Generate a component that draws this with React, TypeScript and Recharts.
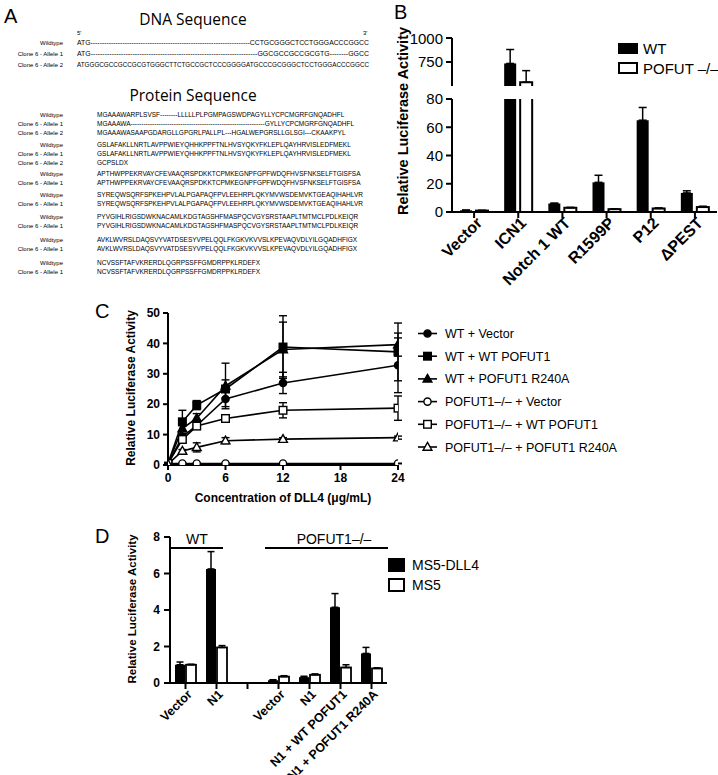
import React from 'react';
import { BarChart, Bar, XAxis, YAxis, ErrorBar, LineChart, Line } from 'recharts';

const FONT = '"Liberation Sans", Arial, Helvetica, sans-serif';
const SEQ_FONT = '"Liberation Sans", Arial, sans-serif';
const TITLE_FONT = '"Open Sans", "Noto Sans", sans-serif';

// ---------------- Panel A (text content) ----------------
const dash = (n: number) => '-'.repeat(n);
const dnaRowLabels = ['Wildtype', 'Clone 6 - Allele 1', 'Clone 6 - Allele 2'];
const dnaSequences = [
  'ATG' + dash(70) + 'CCTGCGGGCTCCTGGGACCCGGCC',
  'ATG' + dash(72) + 'GGCGCCGCCGCGTG' + dash(8) + 'GGCC',
  'ATGGGCGCCGCCGCGTGGGCTTCTGCCGCTCCCGGGGATGCCCGCGGGCTCCTGGGACCCGGCC',
];
const proteinLabels = ['Wildtype', 'Clone 6 - Allele 1', 'Clone 6 - Allele 2'];
const proteinBlocks: string[][] = [
  [
    'MGAAAWARPLSVSF--------LLLLLPLPGMPAGSWDPAGYLLYCPCMGRFGNQADHFL',
    'MGAAAWA' + dash(62) + 'GYLLYCPCMGRFGNQADHFL',
    'MGAAAWASAAPGDARGLLGPGRLPALLPL---HGALWEPGRSLLGLSGI---CKAAKPYL',
  ],
  [
    'GSLAFAKLLNRTLAVPPWIEYQHHKPPFTNLHVSYQKYFKLEPLQAYHRVISLEDFMEKL',
    'GSLAFAKLLNRTLAVPPWIEYQHHKPPFTNLHVSYQKYFKLEPLQAYHRVISLEDFMEKL',
    'GCPSLDX',
  ],
  [
    'APTHWPPEKRVAYCFEVAAQRSPDKKTCPMKEGNPFGPFWDQFHVSFNKSELFTGISFSA',
    'APTHWPPEKRVAYCFEVAAQRSPDKKTCPMKEGNPFGPFWDQFHVSFNKSELFTGISFSA',
  ],
  [
    'SYREQWSQRFSPKEHPVLALPGAPAQFPVLEEHRPLQKYMVWSDEMVKTGEAQIHAHLVR',
    'SYREQWSQRFSPKEHPVLALPGAPAQFPVLEEHRPLQKYMVWSDEMVKTGEAQIHAHLVR',
  ],
  [
    'PYVGIHLRIGSDWKNACAMLKDGTAGSHFMASPQCVGYSRSTAAPLTMTMCLPDLKEIQR',
    'PYVGIHLRIGSDWKNACAMLKDGTAGSHFMASPQCVGYSRSTAAPLTMTMCLPDLKEIQR',
  ],
  [
    'AVKLWVRSLDAQSVYVATDSESYVPELQQLFKGKVKVVSLKPEVAQVDLYILGQADHFIGX',
    'AVKLWVRSLDAQSVYVATDSESYVPELQQLFKGKVKVVSLKPEVAQVDLYILGQADHFIGX',
  ],
  [
    'NCVSSFTAFVKRERDLQGRPSSFFGMDRPPKLRDEFX',
    'NCVSSFTAFVKRERDLQGRPSSFFGMDRPPKLRDEFX',
  ],
];
const proteinBlockTops = [115, 145, 174, 195, 217, 240, 263];

// ---------------- Panel B data ----------------
const bCategories = ['Vector', 'ICN1', 'Notch 1 WT', 'R1599P', 'P12', '\u0394PEST'];
const bWT = [1.2, 735, 6, 21, 65, 13.5];
const bWTErr = [0.2, 145, 0.3, 5, 9, 1.5];
const bKO = [1, 540, 3, 2, 2.5, 3.5];
const bKOErr = [0.2, 120, 0.3, 0.3, 0.4, 0.6];
const bLowerTicks = [0, 20, 40, 60, 80];
const bUpperTicks = [500, 750, 1000];
const B_LOW_MAX = 80;
const B_HIGH_MIN = 500;

const bLowerData = bCategories.map((name, i) => ({
  name,
  wt: Math.min(bWT[i], B_LOW_MAX),
  wtRaw: bWT[i],
  wtErr: bWT[i] > B_LOW_MAX ? null : [0, bWTErr[i]],
  ko: Math.min(bKO[i], B_LOW_MAX),
  koRaw: bKO[i],
  koErr: bKO[i] > B_LOW_MAX ? null : [0, bKOErr[i]],
}));
const bUpperData = bCategories.map((name, i) => ({
  name,
  wt: bWT[i] > B_HIGH_MIN ? bWT[i] : null,
  wtErr: bWT[i] > B_HIGH_MIN ? [0, bWTErr[i]] : null,
  ko: bKO[i] > B_HIGH_MIN ? bKO[i] : null,
  koErr: bKO[i] > B_HIGH_MIN ? [0, bKOErr[i]] : null,
}));

// ---------------- Panel C data ----------------
const cConcentrations = [0, 1.5, 3, 6, 12, 24];
const cTicksX = [0, 6, 12, 18, 24];
const cTicksY = [0, 10, 20, 30, 40, 50];
const cWTVector = [0.5, 9.3, 13, 21.7, 27, 32.8];
const cWTVectorErr = [0.3, 1, 1, 2.5, 3.5, 9];
const cWTPofut = [0.5, 14.2, 19.7, 25, 38.8, 37.2];
const cWTPofutErr = [0.3, 3.8, 1.5, 3, 10.3, 9.5];
const cWTR240A = [0.5, 12, 15.4, 26, 38, 39.6];
const cWTR240AErr = [0.3, 1, 1.5, 7.5, 9, 3.8];
const cKOVector = [0.5, 0.5, 0.5, 0.5, 0.5, 0.5];
const cKOVectorErr = [0.1, 0.1, 0.1, 0.1, 0.1, 0.1];
const cKOPofut = [0.5, 8.4, 12.8, 15.3, 18, 18.7];
const cKOPofutErr = [0.3, 1, 1, 0.8, 2.5, 4];
const cKOR240A = [0.3, 4.6, 5.8, 8, 8.5, 9];
const cKOR240AErr = [0.2, 0.5, 1.5, 1, 0.5, 0.5];

const cSeries = [
  { key: 'wtVector', label: 'WT + Vector', values: cWTVector, errors: cWTVectorErr, shape: 'circle', filled: true },
  { key: 'wtPofut', label: 'WT + WT POFUT1', values: cWTPofut, errors: cWTPofutErr, shape: 'square', filled: true },
  { key: 'wtR240A', label: 'WT + POFUT1 R240A', values: cWTR240A, errors: cWTR240AErr, shape: 'triangle', filled: true },
  { key: 'koVector', label: 'POFUT1\u2013/\u2013 + Vector', values: cKOVector, errors: cKOVectorErr, shape: 'circle', filled: false },
  { key: 'koPofut', label: 'POFUT1\u2013/\u2013 + WT POFUT1', values: cKOPofut, errors: cKOPofutErr, shape: 'square', filled: false },
  { key: 'koR240A', label: 'POFUT1\u2013/\u2013 + POFUT1 R240A', values: cKOR240A, errors: cKOR240AErr, shape: 'triangle', filled: false },
];
const cData = cConcentrations.map((x, i) => {
  const row: any = { x };
  cSeries.forEach((s) => {
    row[s.key] = s.values[i];
    row[s.key + 'Err'] = s.errors[i];
  });
  return row;
});

// ---------------- Panel D data ----------------
const dCategories = ['Vector', 'N1', '', 'Vector', 'N1', 'N1 + WT POFUT1', 'N1 + POFUT1 R240A'];
const dMS5DLL4 = [1.0, 6.25, null, 0.15, 0.32, 4.15, 1.62];
const dMS5DLL4Err = [0.15, 0.95, null, 0.03, 0.05, 0.75, 0.33];
const dMS5 = [1.0, 1.95, null, 0.35, 0.45, 0.85, 0.8];
const dMS5Err = [0.03, 0.1, null, 0.05, 0.05, 0.15, 0.03];
const dTicksY = [0, 2, 4, 6, 8];
const dData = dCategories.map((name, i) => ({
  name,
  dll4: dMS5DLL4[i],
  dll4Err: dMS5DLL4Err[i] == null ? null : [0, dMS5DLL4Err[i]],
  ms5: dMS5[i],
  ms5Err: dMS5Err[i] == null ? null : [0, dMS5Err[i]],
}));

// ---------------- helpers ----------------
function Marker({ shape, filled, cx, cy }: any) {
  const fill = filled ? '#000' : '#fff';
  const sw = 1.4;
  if (shape === 'circle') return <circle cx={cx} cy={cy} r={3.6} fill={fill} stroke="#000" strokeWidth={sw} />;
  if (shape === 'square')
    return <rect x={cx - 3.8} y={cy - 3.8} width={7.6} height={7.6} fill={fill} stroke="#000" strokeWidth={sw} />;
  return (
    <path
      d={`M${cx},${cy - 4.6} L${cx + 4.4},${cy + 3.2} L${cx - 4.4},${cy + 3.2} Z`}
      fill={fill}
      stroke="#000"
      strokeWidth={sw}
    />
  );
}

const makeRotTick = (fontSize: number, dx: number, dy: number) => (props: any) => {
  const { x, y, payload } = props;
  return (
    <g transform={`translate(${x + dx},${y + dy})`}>
      <text
        transform="rotate(-45)"
        textAnchor="end"
        x={0}
        y={0}
        dy="0.35em"
        fontSize={fontSize}
        fontWeight="bold"
        fontFamily={FONT}
        fill="#000"
      >
        {payload.value}
      </text>
    </g>
  );
};

const OpenBarLower = (props: any) => {
  const { x, y, width, height, payload } = props;
  if (payload == null || payload.ko == null || width == null) return <g />;
  if (payload.koRaw > B_LOW_MAX) {
    return (
      <g>
        <rect x={x} y={y} width={width} height={height} fill="#fff" />
        <path
          d={`M${x},${y + height} L${x},${y} M${x + width},${y} L${x + width},${y + height}`}
          stroke="#000"
          strokeWidth={2}
          fill="none"
        />
      </g>
    );
  }
  return <rect x={x} y={y} width={width} height={height} fill="#fff" stroke="#000" strokeWidth={2} />;
};

const OpenBarUpper = (props: any) => {
  const { x, y, width, height, payload } = props;
  if (payload == null || payload.ko == null || width == null) return <g />;
  return (
    <g>
      <rect x={x} y={y} width={width} height={height} fill="#fff" />
      <path
        d={`M${x},${y + height} L${x},${y} L${x + width},${y} L${x + width},${y + height}`}
        stroke="#000"
        strokeWidth={2}
        fill="none"
      />
    </g>
  );
};

const OpenBarD = (props: any) => {
  const { x, y, width, height, payload } = props;
  if (payload == null || payload.ms5 == null || width == null) return <g />;
  return <rect x={x} y={y} width={width} height={height} fill="#fff" stroke="#000" strokeWidth={1.8} />;
};

const axisLine = { stroke: '#000', strokeWidth: 2 };
const tickLine = { stroke: '#000', strokeWidth: 2 };

// ---------------- Panels ----------------
function PanelB() {
  return (
    <>
      <div style={{ position: 'absolute', left: 360, top: 30 }}>
        <BarChart
          width={358}
          height={56}
          data={bUpperData}
          margin={{ top: 8, right: 1, bottom: 0, left: 0 }}
          barSize={12}
          barGap={4}
        >
          <XAxis dataKey="name" hide />
          <YAxis
            width={92}
            domain={[B_HIGH_MIN, 1000]}
            ticks={bUpperTicks}
            allowDataOverflow
            axisLine={axisLine}
            tickLine={tickLine}
            tickSize={6}
            tickMargin={3}
            tick={{ fill: '#000', fontSize: 15, fontFamily: FONT }}
          />
          <Bar dataKey="wt" fill="#000" isAnimationActive={false}>
            <ErrorBar dataKey="wtErr" width={4} stroke="#000" strokeWidth={1.5} />
          </Bar>
          <Bar dataKey="ko" fill="#fff" shape={OpenBarUpper} isAnimationActive={false}>
            <ErrorBar dataKey="koErr" width={4} stroke="#000" strokeWidth={1.5} />
          </Bar>
        </BarChart>
      </div>
      <div style={{ position: 'absolute', left: 360, top: 90 }}>
        <BarChart
          width={358}
          height={212}
          data={bLowerData}
          margin={{ top: 9, right: 1, bottom: 0, left: 0 }}
          barSize={12}
          barGap={4}
        >
          <XAxis
            dataKey="name"
            interval={0}
            height={90}
            axisLine={axisLine}
            tickLine={tickLine}
            tickSize={6}
            tickMargin={2}
            tick={makeRotTick(16, 5, 0)}
          />
          <YAxis
            width={92}
            domain={[0, B_LOW_MAX]}
            ticks={bLowerTicks}
            allowDataOverflow
            axisLine={axisLine}
            tickLine={tickLine}
            tickSize={6}
            tickMargin={3}
            tick={{ fill: '#000', fontSize: 15, fontFamily: FONT }}
          />
          <Bar dataKey="wt" fill="#000" isAnimationActive={false}>
            <ErrorBar dataKey="wtErr" width={4} stroke="#000" strokeWidth={1.5} />
          </Bar>
          <Bar dataKey="ko" fill="#fff" shape={OpenBarLower} isAnimationActive={false}>
            <ErrorBar dataKey="koErr" width={4} stroke="#000" strokeWidth={1.5} />
          </Bar>
        </BarChart>
      </div>
    </>
  );
}

function PanelC() {
  return (
    <div style={{ position: 'absolute', left: 90, top: 300 }}>
      <LineChart width={320} height={205} data={cData} margin={{ top: 13, right: 12, bottom: 0, left: 0 }}>
        <XAxis
          dataKey="x"
          type="number"
          domain={[0, 24]}
          ticks={cTicksX}
          allowDataOverflow
          height={40}
          axisLine={axisLine}
          tickLine={tickLine}
          tickSize={5}
          tickMargin={3}
          tick={{ fill: '#000', fontSize: 12, fontWeight: 'bold', fontFamily: FONT }}
        />
        <YAxis
          width={78}
          domain={[0, 50]}
          ticks={cTicksY}
          allowDataOverflow
          axisLine={axisLine}
          tickLine={tickLine}
          tickSize={5}
          tickMargin={3}
          tick={{ fill: '#000', fontSize: 12, fontWeight: 'bold', fontFamily: FONT }}
        />
        {cSeries.map((s) => (
          <Line
            key={s.key}
            dataKey={s.key}
            stroke="#000"
            strokeWidth={1.6}
            isAnimationActive={false}
            dot={(p: any) => (
              <Marker key={`${s.key}-${p.index}`} shape={s.shape} filled={s.filled} cx={p.cx} cy={p.cy} />
            )}
            activeDot={false}
          >
            <ErrorBar dataKey={s.key + 'Err'} width={4} stroke="#000" strokeWidth={1.4} direction="y" />
          </Line>
        ))}
      </LineChart>
    </div>
  );
}

function PanelD() {
  return (
    <div style={{ position: 'absolute', left: 80, top: 525 }}>
      <BarChart
        width={307}
        height={250}
        data={dData}
        margin={{ top: 12, right: 0, bottom: 0, left: 0 }}
        barSize={10}
        barGap={1}
      >
        <XAxis
          dataKey="name"
          interval={0}
          height={92}
          axisLine={axisLine}
          tickLine={tickLine}
          tickSize={6}
          tickMargin={2}
          tick={makeRotTick(12.5, 4, 1)}
        />
        <YAxis
          width={90}
          domain={[0, 8]}
          ticks={dTicksY}
          allowDataOverflow
          axisLine={axisLine}
          tickLine={tickLine}
          tickSize={6}
          tickMargin={4}
          tick={{ fill: '#000', fontSize: 12, fontWeight: 'bold', fontFamily: FONT }}
        />
        <Bar dataKey="dll4" fill="#000" isAnimationActive={false}>
          <ErrorBar dataKey="dll4Err" width={3.5} stroke="#000" strokeWidth={1.5} />
        </Bar>
        <Bar dataKey="ms5" fill="#fff" shape={OpenBarD} isAnimationActive={false}>
          <ErrorBar dataKey="ms5Err" width={3.5} stroke="#000" strokeWidth={1.5} />
        </Bar>
      </BarChart>
    </div>
  );
}

function Overlay() {
  const seqLabelX = 63;
  return (
    <svg
      width={718}
      height={775}
      style={{ position: 'absolute', left: 0, top: 0, pointerEvents: 'none' }}
    >
      {/* panel letters */}
      <g fontFamily={FONT} fontSize={20} fill="#000">
        <text x={4} y={23}>A</text>
        <text x={394} y={19}>B</text>
        <text x={95} y={318}>C</text>
        <text x={95} y={543}>D</text>
      </g>

      {/* Panel A */}
      <text x={193} y={25} textAnchor="middle" fontFamily={TITLE_FONT} fontSize={15.5} fill="#000">
        DNA Sequence
      </text>
      <text x={77} y={35} fontFamily={SEQ_FONT} fontSize={6} fill="#000">5'</text>
      <text x={363} y={35} fontFamily={SEQ_FONT} fontSize={6} fill="#000">3'</text>
      {dnaSequences.map((seq, i) => (
        <g key={'dna' + i} fontFamily={SEQ_FONT} fill="#000">
          <text x={seqLabelX} y={44.5 + i * 11} textAnchor="end" fontSize={6}>
            {dnaRowLabels[i]}
          </text>
          <text x={77} y={44.5 + i * 11} fontSize={6.8} textLength={292} lengthAdjust="spacingAndGlyphs">
            {seq}
          </text>
        </g>
      ))}
      <text x={193} y={101} textAnchor="middle" fontFamily={TITLE_FONT} fontSize={15.5} fill="#000">
        Protein Sequence
      </text>
      {proteinBlocks.map((block, bi) =>
        block.map((seq, ri) => (
          <g key={`p${bi}-${ri}`} fontFamily={SEQ_FONT} fill="#000">
            <text x={seqLabelX} y={proteinBlockTops[bi] + ri * 8.8 + 2.3} textAnchor="end" fontSize={6}>
              {proteinLabels[ri]}
            </text>
            <text x={97} y={proteinBlockTops[bi] + ri * 8.8 + 2.3} fontSize={6.5}>
              {seq}
            </text>
          </g>
        ))
      )}

      {/* Panel B titles and legend */}
      <text
        transform="translate(408,121) rotate(-90)"
        textAnchor="middle"
        fontFamily={FONT}
        fontWeight="bold"
        fontSize={14.5}
        fill="#000"
      >
        Relative Luciferase Activity
      </text>
      <rect x={618} y={43} width={20} height={11} fill="#000" />
      <text x={643} y={54} fontFamily={FONT} fontSize={15} fill="#000">WT</text>
      <rect x={619} y={63} width={18} height={10} fill="#fff" stroke="#000" strokeWidth={2} />
      <text x={643} y={74} fontFamily={FONT} fontSize={15} fill="#000">POFUT {'\u2013/\u2013'}</text>

      {/* Panel C titles and legend */}
      <text
        transform="translate(134.5,388) rotate(-90)"
        textAnchor="middle"
        fontFamily={FONT}
        fontWeight="bold"
        fontSize={12}
        fill="#000"
      >
        Relative Luciferase Activity
      </text>
      <text x={283} y={502} textAnchor="middle" fontFamily={FONT} fontWeight="bold" fontSize={12} fill="#000">
        Concentration of DLL4 ({'\u03bc'}g/mL)
      </text>
      {cSeries.map((s, i) => {
        const cy = 333.5 + i * 22.7;
        return (
          <g key={'leg' + s.key}>
            <line x1={418} y1={cy} x2={437} y2={cy} stroke="#000" strokeWidth={1.6} />
            <Marker shape={s.shape} filled={s.filled} cx={427.5} cy={cy} />
            <text x={445} y={cy + 4.5} fontFamily={FONT} fontSize={12.5} fill="#000">
              {s.label}
            </text>
          </g>
        );
      })}

      {/* Panel D titles, brackets, legend */}
      <text
        transform="translate(136,609) rotate(-90)"
        textAnchor="middle"
        fontFamily={FONT}
        fontWeight="bold"
        fontSize={11.5}
        fill="#000"
      >
        Relative Luciferase Activity
      </text>
      <line x1={170} y1={548} x2={223} y2={548} stroke="#000" strokeWidth={2} />
      <text x={197} y={544} textAnchor="middle" fontFamily={FONT} fontSize={14} fill="#000">WT</text>
      <line x1={265} y1={548} x2={388} y2={548} stroke="#000" strokeWidth={2} />
      <text x={334} y={544} textAnchor="middle" fontFamily={FONT} fontSize={14} fill="#000">
        POFUT1{'\u2013/\u2013'}
      </text>
      <rect x={388} y={558} width={17} height={14} fill="#000" />
      <text x={412} y={570} fontFamily={FONT} fontSize={14} fill="#000">MS5-DLL4</text>
      <rect x={389} y={579} width={15} height={12} fill="#fff" stroke="#000" strokeWidth={2} />
      <text x={412} y={590} fontFamily={FONT} fontSize={14} fill="#000">MS5</text>
    </svg>
  );
}

export default function App() {
  return (
    <div
      style={{
        position: 'absolute',
        left: 0,
        top: 0,
        width: 718,
        height: 775,
        background: '#fff',
        overflow: 'hidden',
        fontFamily: FONT,
      }}
    >
      <PanelB />
      <PanelC />
      <PanelD />
      <Overlay />
    </div>
  );
}
